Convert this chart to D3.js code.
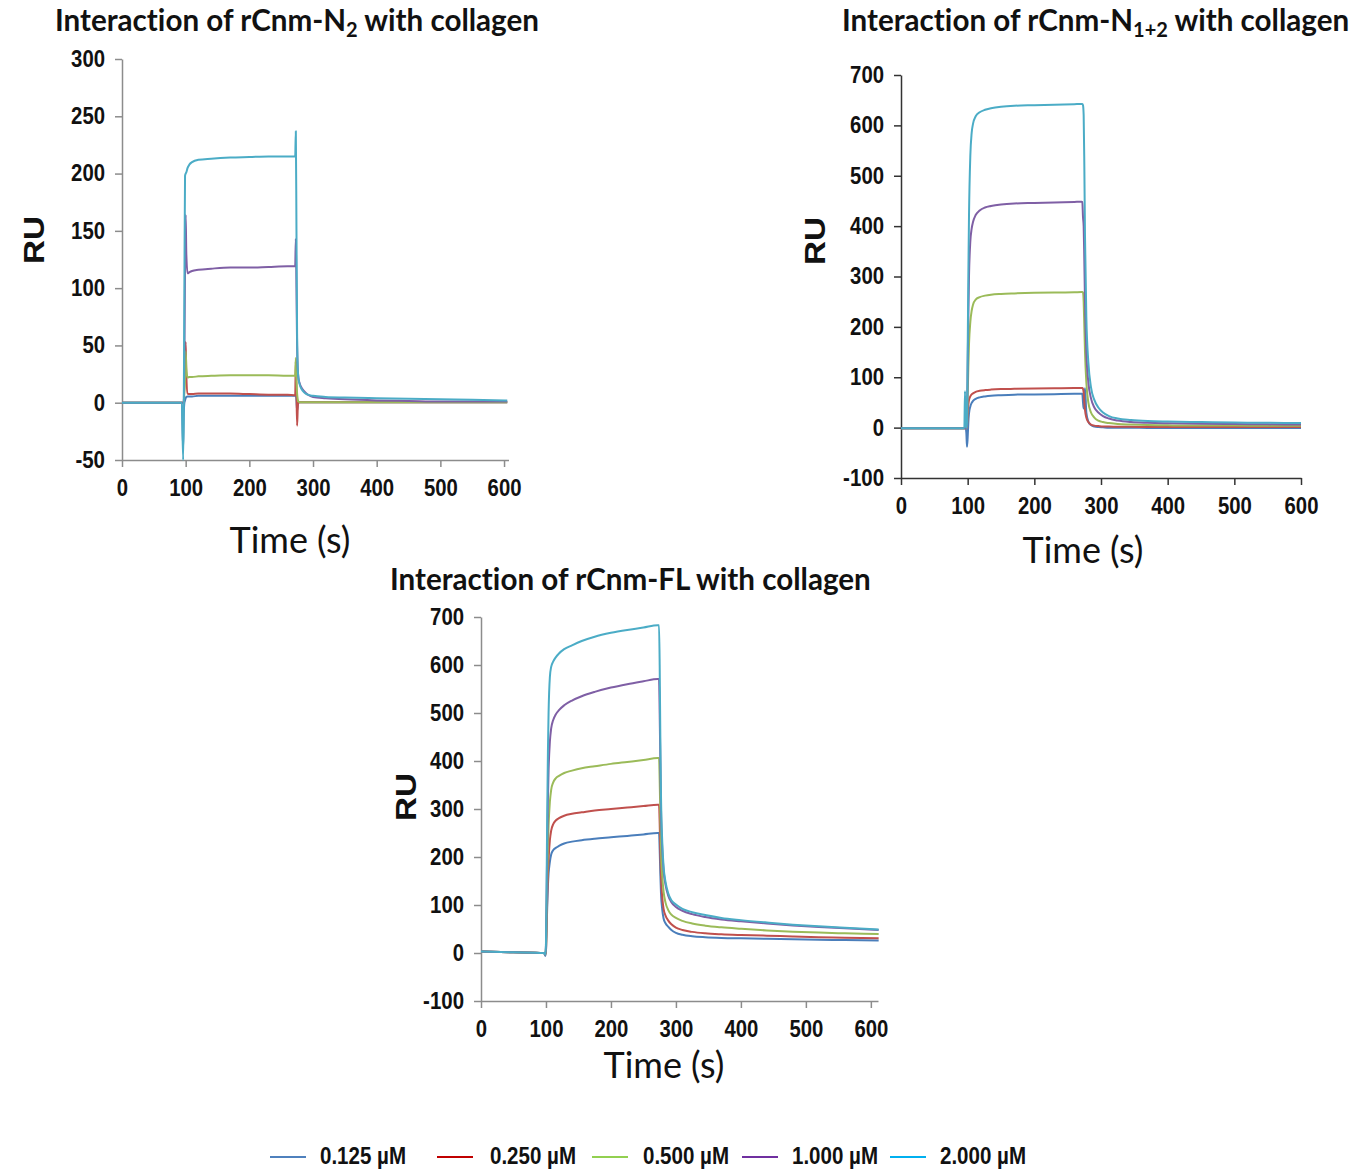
<!DOCTYPE html>
<html>
<head>
<meta charset="utf-8">
<script src="https://cdn.jsdelivr.net/npm/d3@7"></script>
<style>
  body { margin: 0; background: #fff; }
  text { font-variant-ligatures: none; }
  .tick text { font-family: "Liberation Sans", Arial, sans-serif; font-weight: bold; font-size: 23px; fill: #111; }
  .title { font-family: Lato, "Open Sans", sans-serif; font-weight: bold; font-size: 29.6px; fill: #111; }
  .xtitle { font-family: Lato, "Open Sans", sans-serif; font-size: 36px; fill: #111; }
  .ytitle { font-family: "Liberation Sans", Arial, sans-serif; font-weight: bold; font-size: 30px; fill: #111; }
  .legend text { font-family: "Liberation Sans", Arial, sans-serif; font-weight: bold; font-size: 23px; fill: #111; }
</style>
</head>
<body>
<svg id="chart" width="1353" height="1172"></svg>
<script>
// Series names and colours
const seriesNames = ['0.125 µM', '0.250 µM', '0.500 µM', '1.000 µM', '2.000 µM'];
const lineColors = ['#4a7ebb', '#c0504d', '#9bbb59', '#7f5fa5', '#4bacc6'];
const legendColors = ['#4f81bd', '#c00000', '#92d050', '#7030a0', '#00b0f0'];

// ---- rCnm-N2 ----
const timeN2 = [0, 50, 94, 96, 97, 98, 99, 100, 101, 103, 106, 110, 120, 140, 170, 200, 230, 260, 272, 273, 274, 275, 276, 277, 279, 282, 286, 292, 300, 320, 350, 400, 450, 500, 550, 605];
const n2_0125 = [0, 0, 0, -40, -10, 0, 2, 4, 5, 5.5, 5.5, 5.5, 6, 6, 6, 6, 6, 6, 6, 6, 2, -7, -2, 0, 0.5, 0.5, 0.5, 0.5, 0.5, 0.5, 0.5, 0.5, 0.5, 0.5, 0.5, 0.5];
const n2_0250 = [0, 0, 0, 0, 0, 20, 40, 53, 25, 8, 7.5, 7.5, 8, 8, 8, 7.5, 7, 7, 6.5, 36, 10, -20, -5, 0, 0.5, 0.5, 0.5, 0.5, 0.5, 0.5, 0.5, 0.5, 0.5, 0.5, 0.5, 0.5];
const n2_0500 = [0, 0, 0, 0, 0, 10, 20, 45, 30, 22, 22.5, 22.5, 23, 23.5, 24, 24, 24, 23.5, 23.5, 39, 20, 8, 3, 1, 0.5, 0.5, 0.5, 0.5, 0.5, 0.5, 0.5, 0.5, 0.5, 0.5, 0.5, 0.5];
const n2_1000 = [0, 0, 0, 0, 0, 40, 120, 164, 130, 113, 114, 115, 116, 117, 118, 118, 118.5, 119, 119, 143, 100, 50, 30, 22, 17, 13, 10, 7, 5, 4, 3, 2, 1.5, 1, 1, 1];
const n2_2000 = [0, 0, 0, -50, -5, 100, 198, 200, 201, 205, 208, 210, 212, 213, 214, 214.5, 215, 215, 215, 237, 150, 60, 30, 22, 16, 12, 9, 7, 6, 5, 4.5, 4, 3.5, 3, 2.5, 2];

// ---- rCnm-N1+2 ----
const timeN12 = [0, 50, 94, 95, 96, 97, 98, 99, 100, 101, 102, 104, 106, 108, 112, 118, 126, 135, 150, 170, 200, 230, 260, 271, 272, 273, 274, 275, 276, 278, 281, 285, 290, 296, 303, 312, 325, 345, 370, 400, 450, 500, 550, 600];
const n12_0125 = [-1, -1, -1, -1, -1, -1, -10, -38, -20, 10, 28, 42, 49, 53, 57, 60, 62, 63.5, 64.5, 65.5, 66, 66.5, 67, 67, 67, 50, 38, 60, 78, 30, 12, 5, 2, 1, 0.5, 0, 0, 0, -0.5, -0.5, -0.5, -0.5, -0.5, -0.5];
const n12_0250 = [-1, -1, -1, -1, -1, -1, -1, 5, 30, 45, 55, 62, 66, 68, 71, 73, 74.5, 75.5, 76.5, 77, 77.5, 78, 78.5, 78.5, 78.5, 77, 70, 50, 35, 20, 11, 6, 4, 3, 2, 2, 1.5, 1.5, 1, 1, 1, 1, 1, 1];
const n12_0500 = [-1, -1, -1, -1, -1, -1, -1, 5, 60, 120, 165, 210, 232, 244, 254, 259, 262, 264, 265.5, 266.5, 267.5, 268, 268.5, 269, 269, 268, 250, 200, 150, 90, 50, 30, 20, 14, 11, 9, 7, 6, 5, 4.5, 4, 4, 3.5, 3.5];
const n12_1000 = [-1, -1, -1, -1, -1, -1, -1, 10, 120, 220, 300, 370, 395, 408, 422, 431, 437, 440, 443, 445, 446, 447, 448, 448.5, 448, 418, 400, 330, 250, 150, 90, 58, 40, 30, 23, 18, 14, 11, 9.5, 8.5, 7.5, 7, 6.5, 6];
const n12_2000 = [-1, -1, -1, -1, 72, 5, 0, 10, 150, 300, 420, 540, 585, 603, 618, 626, 631, 634, 637, 639, 640, 641, 642, 642.5, 642.5, 640, 620, 520, 380, 220, 130, 80, 55, 40, 30, 23, 18, 15, 13, 12, 11, 10, 9.5, 9];

// ---- rCnm-FL ----
const timeFL = [0, 50, 97, 99, 100, 101, 102, 103, 104, 106, 108, 111, 115, 120, 128, 140, 155, 175, 200, 225, 250, 272, 274, 275, 276, 277, 279, 281, 284, 288, 293, 300, 310, 325, 345, 370, 400, 440, 480, 520, 560, 612];
const fl_0125 = [3, 1.5, 0, -6, 5, 50, 100, 140, 165, 190, 205, 214, 219, 223, 228, 232, 235, 238, 241, 244, 247, 250, 250, 215, 165, 125, 90, 72, 62, 55, 48, 42, 38, 35, 33, 31.5, 30.5, 29.5, 28.5, 27.5, 27, 26];
const fl_0250 = [3, 1.5, 0, -3, 5, 60, 120, 165, 195, 235, 255, 268, 276, 281, 286, 290, 293, 297, 300, 303, 306, 309, 309, 270, 210, 160, 115, 92, 78, 68, 60, 53, 48, 44, 41, 39, 37.5, 36, 34.5, 33, 32, 30.5];
const fl_0500 = [3, 1.5, 0, -3, 10, 80, 160, 220, 265, 315, 340, 355, 364, 369, 375, 380, 385, 389, 394, 398, 402, 406, 406, 360, 290, 220, 160, 128, 105, 90, 80, 73, 67, 61.5, 57, 53.5, 50.5, 47, 44.5, 42.5, 41, 39.5];
const fl_1000 = [3, 1.5, 0, -3, 15, 120, 230, 320, 380, 440, 468, 485, 497, 506, 516, 526, 535, 544, 553, 560, 566, 571, 571, 500, 400, 300, 215, 172, 142, 120, 106, 96, 88, 81, 75, 70, 66, 61.5, 57.5, 54, 51.5, 48];
const fl_2000 = [3, 1.5, 0, -3, 20, 150, 300, 420, 500, 575, 596, 607, 616, 624, 633, 641, 650, 659, 667, 673, 678, 683, 683, 600, 450, 330, 230, 180, 148, 125, 110, 101, 92, 85, 79, 73, 68.5, 63.5, 59, 55.5, 52.5, 49];

const xTicks = [0, 100, 200, 300, 400, 500, 600];
const yTicksN2 = [-50, 0, 50, 100, 150, 200, 250, 300];
const yTicks700 = [-100, 0, 100, 200, 300, 400, 500, 600, 700];

const svg = d3.select('#chart');

// narrow look for the tick numbers: ~11.3px per digit, less for the minus
function narrowTicks(a) {
    a.selectAll('.tick text')
        .attr('textLength', d => {
            let s = String(d);
            return s.replace('-', '').length * 11.3 + (d < 0 ? 7 : 0);
        })
        .attr('lengthAdjust', 'spacingAndGlyphs');
}

// Draws one sensorgram panel
function drawPanel(p) {
    let g = svg.append('g');

    let x = d3.scaleLinear().domain(p.xDomain).range(p.xRange);
    let y = d3.scaleLinear().domain(p.yDomain).range(p.yRange);

    let line = d3.line()
        .x((d, i) => x(p.time[i]))
        .y(d => y(d))
        .curve(d3.curveMonotoneX);

    // x axis sits at the bottom of the y range
    let xAxis = g.append('g')
        .attr('transform', `translate(0,${p.yRange[0]})`)
        .call(d3.axisBottom(x).tickValues(xTicks).tickFormat(d => String(d))
            .tickSize(7).tickPadding(13).tickSizeOuter(0));
    let yAxis = g.append('g')
        .attr('transform', `translate(${p.xRange[0]},0)`)
        .call(d3.axisLeft(y).tickValues(p.yTicks).tickFormat(d => String(d))
            .tickSize(7).tickPadding(10).tickSizeOuter(0));

    [xAxis, yAxis].forEach(a => {
        a.select('.domain').attr('stroke', p.axisColor).attr('stroke-width', 1.5);
        a.selectAll('.tick line').attr('stroke', p.axisColor).attr('stroke-width', 1.5);
        a.attr('font-size', null).attr('font-family', null);
        narrowTicks(a);
    });

    g.selectAll('path.series')
        .data(p.series)
        .enter()
        .append('path')
        .attr('class', 'series')
        .attr('d', d => line(d))
        .attr('fill', 'none')
        .attr('stroke', (d, i) => lineColors[i])
        .attr('stroke-width', 2)
        .attr('stroke-linejoin', 'round');

    // Chart title with subscript part
    let t = g.append('text')
        .attr('class', 'title')
        .attr('x', p.titleX)
        .attr('y', p.titleY);
    t.append('tspan').text(p.title[0]);
    if (p.title[1]) {
        t.append('tspan').attr('font-size', '20px').attr('dy', 6).text(p.title[1]);
        t.append('tspan').attr('dy', -6).text(p.title[2]);
    }

    g.append('text')
        .attr('class', 'xtitle')
        .attr('x', p.timeX)
        .attr('y', p.timeY)
        .attr('text-anchor', 'middle')
        .text('Time (s)');

    g.append('text')
        .attr('class', 'ytitle')
        .attr('transform', `translate(${p.ruX},${p.ruY}) rotate(-90)`)
        .attr('text-anchor', 'middle')
        .attr('textLength', 48)
        .attr('lengthAdjust', 'spacingAndGlyphs')
        .text('RU');
}

drawPanel({
    time: timeN2,
    series: [n2_0125, n2_0250, n2_0500, n2_1000, n2_2000],
    xDomain: [0, 607], xRange: [122, 508.5],
    yDomain: [-50, 300], yRange: [460, 59],
    yTicks: yTicksN2,
    axisColor: '#8c8c8c',
    title: ['Interaction of rCnm-N', '2', ' with collagen'],
    titleX: 55, titleY: 31,
    timeX: 290, timeY: 553,
    ruX: 44, ruY: 240
});

drawPanel({
    time: timeN12,
    series: [n12_0125, n12_0250, n12_0500, n12_1000, n12_2000],
    xDomain: [0, 600], xRange: [901, 1301],
    yDomain: [-100, 700], yRange: [478, 75],
    yTicks: yTicks700,
    axisColor: '#333',
    title: ['Interaction of rCnm-N', '1+2', ' with collagen'],
    titleX: 842, titleY: 31,
    timeX: 1083, timeY: 563,
    ruX: 825, ruY: 241
});

drawPanel({
    time: timeFL,
    series: [fl_0125, fl_0250, fl_0500, fl_1000, fl_2000],
    xDomain: [0, 611], xRange: [481, 878],
    yDomain: [-100, 700], yRange: [1001, 617],
    yTicks: yTicks700,
    axisColor: '#8c8c8c',
    title: ['Interaction of rCnm-FL with collagen'],
    titleX: 390, titleY: 590,
    timeX: 664, timeY: 1078,
    ruX: 416, ruY: 797
});

// Legend along the bottom
const legendX = [270, 437, 592, 742, 890];
const legendTextX = [320, 490, 643, 792, 940];
let legend = svg.append('g').attr('class', 'legend');
seriesNames.forEach((name, i) => {
    legend.append('line')
        .attr('x1', legendX[i]).attr('x2', legendX[i] + 36)
        .attr('y1', 1157).attr('y2', 1157)
        .attr('stroke', legendColors[i])
        .attr('stroke-width', 2);
    legend.append('text')
        .attr('x', legendTextX[i])
        .attr('y', 1164)
        .attr('textLength', 86)
        .attr('lengthAdjust', 'spacingAndGlyphs')
        .text(name);
});
</script>
</body>
</html>
